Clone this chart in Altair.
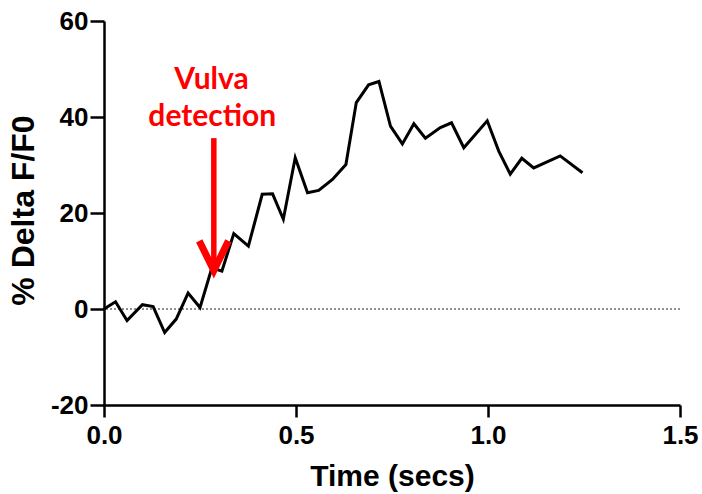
import altair as alt
import pandas as pd

# ---- data ----
time_s = [0.000, 0.030, 0.060, 0.100, 0.128, 0.158, 0.188, 0.219, 0.250, 0.281,
          0.307, 0.338, 0.376, 0.412, 0.439, 0.467, 0.498, 0.530, 0.559, 0.595,
          0.630, 0.657, 0.689, 0.716, 0.746, 0.777, 0.807, 0.837, 0.876, 0.905,
          0.937, 0.998, 1.028, 1.058, 1.088, 1.119, 1.188, 1.246]
delta_f = [0.0, 1.5, -2.4, 0.9, 0.5, -4.9, -2.1, 3.3, 0.3, 8.6,
           7.9, 15.7, 13.1, 23.9, 24.0, 18.7, 31.5, 24.2, 24.7, 27.0,
           30.1, 43.0, 46.7, 47.4, 38.1, 34.4, 38.6, 35.6, 37.8, 38.8,
           33.6, 39.2, 32.9, 28.1, 31.4, 29.4, 31.9, 28.4]

x_ticks = [0.0, 0.5, 1.0, 1.5]
y_ticks = [-20, 0, 20, 40, 60]
x_domain = [0, 1.5]
y_domain = [-20, 60]

# annotation (data units)
note_text = ["Vulva", "detection"]
note_t = [0.280, 0.282]
note_v = [45.9, 38.2]
arrow_t = 0.286
arrow_top = 35.6
arrow_tip = 8.0
head_half = 0.038
head_rise = 6.2

df = pd.DataFrame({"t": time_s, "v": delta_f})
xs = alt.Scale(domain=x_domain, nice=False, zero=False)
ys = alt.Scale(domain=y_domain, nice=False, zero=False)

x_axis = alt.Axis(values=x_ticks, format=".1f", tickSize=12, labelPadding=5, labelFlush=False,
                  title="Time (secs)", titleY=80, titleBaseline="alphabetic")
y_axis = alt.Axis(values=y_ticks, labelExpr="datum.value + ''", tickSize=14, labelPadding=2,
                  labelFlush=False,
                  title="% Delta F/F0", titleX=-71, titleY=189, titleFontSize=32,
                  titleBaseline="alphabetic", titleAngle=270)

zero = alt.Chart(pd.DataFrame({"v": [0]})).mark_rule(
    color="#222222", strokeWidth=1.2, strokeDash=[2, 2]
).encode(y=alt.Y("v:Q", scale=ys, axis=y_axis))

line = alt.Chart(df).mark_line(color="black", strokeWidth=3).encode(
    x=alt.X("t:Q", scale=xs, axis=x_axis),
    y=alt.Y("v:Q", scale=ys, axis=y_axis),
)

shaft = alt.Chart(pd.DataFrame({"t": [arrow_t], "v": [arrow_top], "v2": [arrow_tip + 1.0]})).mark_rule(
    color="#FF0000", strokeWidth=5.5
).encode(x=alt.X("t:Q", scale=xs), y=alt.Y("v:Q", scale=ys), y2="v2:Q")

head = alt.Chart(pd.DataFrame({
    "t": [arrow_t - head_half, arrow_t, arrow_t + head_half],
    "v": [arrow_tip + head_rise, arrow_tip, arrow_tip + head_rise],
    "o": [0, 1, 2],
})).mark_line(color="#FF0000", strokeWidth=7, strokeJoin="miter", strokeCap="butt").encode(
    x=alt.X("t:Q", scale=xs), y=alt.Y("v:Q", scale=ys), order="o:Q"
)

note = alt.Chart(pd.DataFrame({"t": note_t, "v": note_v, "s": note_text})).mark_text(
    font="Lato", fontWeight="bold", fontSize=30, color="#FF0000",
    align="center", baseline="alphabetic"
).encode(x=alt.X("t:Q", scale=xs), y=alt.Y("v:Q", scale=ys), text="s:N")

chart = alt.layer(zero, line, shaft, head, note).properties(
    width=576, height=384,
    padding={"left": 104, "top": 21, "right": 22, "bottom": 89},
    autosize="none",
).configure_view(stroke=None).configure_axis(
    grid=False, domainColor="black", domainWidth=2.5, tickColor="black", tickWidth=2.5,
    labelFont="Liberation Sans", labelFontWeight="bold", labelFontSize=26, labelColor="black",
    titleFont="Liberation Sans", titleFontWeight="bold", titleFontSize=30, titleColor="black",
)

chart.save("out.html", embed_options={"renderer": "svg", "actions": False})
